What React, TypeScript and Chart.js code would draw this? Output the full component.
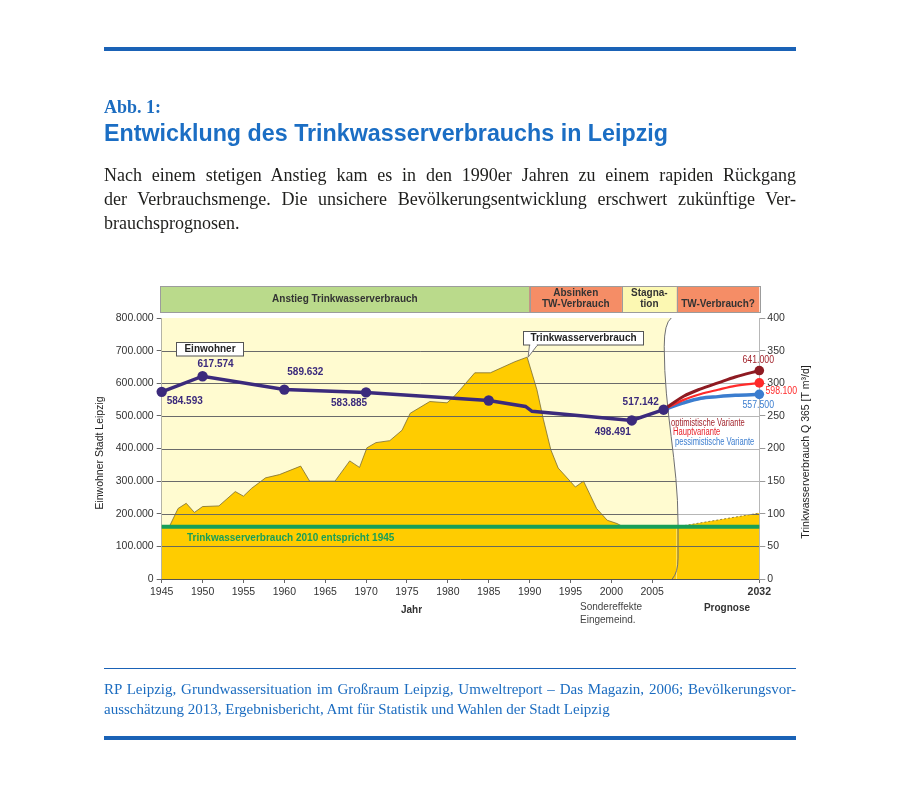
import React, { useEffect, useLayoutEffect, useRef } from 'react';
import { Chart, registerables } from 'chart.js';

Chart.register(...registerables);

// ---------------- data ----------------
// Trinkwasserverbrauch Q 365 [T m³/d] (right axis)
const WATER_YEARS = [1945, 1946, 1947, 1948, 1949, 1950, 1952, 1954, 1955, 1956, 1957.7, 1959.4, 1962, 1963.1, 1966.2, 1968, 1969.2, 1970.1, 1971.2, 1972.9, 1974.4, 1975.4, 1977.8, 1979.9, 1980.7, 1981.5, 1983.3, 1985.2, 1988.2, 1989.7, 1990.9, 1991.7, 1992.6, 1993.5, 1995.6, 1996.6, 1998.2, 1999.5, 2000.7, 2001.3, 2008, 2032];
const WATER_VALUES = [80, 82, 108, 116, 102, 111, 112, 134, 127, 139, 155, 160, 173, 150, 150, 181, 171, 201, 209, 212, 228, 254, 272, 270, 279, 290, 316, 316, 333, 340, 290, 244, 198, 170, 141, 150, 108, 90, 85, 81, 80, 101];

// Einwohner Stadt Leipzig (left axis)
const POP_YEARS = [1945, 1950, 1960, 1970, 1985, 1989.5, 1990.3, 2002.5, 2006.4];
const POP_VALUES = [573600, 621500, 580600, 572000, 547000, 529000, 514000, 486000, 519000];
const POP_LABELS = ['584.593', '617.574', '589.632', '583.885', '', '', '', '498.491', '517.142'];
const POP_MARKED = [true, true, true, true, true, false, false, true, true];

// Bevölkerungsprognose bis 2032
const FORECAST_YEARS = [2006.4, 2010, 2015, 2020, 2025, 2032];
const FORECAST_OPT = [519000, 560000, 583000, 601000, 619000, 639000];
const FORECAST_MAIN = [519000, 549000, 567000, 580000, 592000, 601000];
const FORECAST_PESS = [519000, 540000, 554000, 559000, 563000, 566000];
const FORECAST_END_LABELS = ['641.000', '598.100', '557.500'];
const VARIANT_NAMES = ['optimistische Variante', 'Hauptvariante', 'pessimistische Variante'];

// Trinkwasserverbrauch 2010 (= 1945)
const GREEN_LEVEL = 80;

const X_TICK_YEARS = [1945, 1950, 1955, 1960, 1965, 1970, 1975, 1980, 1985, 1990, 1995, 2000, 2005, 2032];
const PHASE_BOUNDS = [1945, 1990, 2001.3, 2008, 2032];
const PHASE_LABELS = [['Anstieg Trinkwasserverbrauch'], ['Absinken', 'TW-Verbrauch'], ['Stagna-', 'tion'], ['', 'TW-Verbrauch?']];

const BREAK_YEAR = 2008;
const LAST_YEAR = 2032;
const FORECAST_SPAN = 10.1; // axis units used for 2008..2032 (compressed prognosis section)

function axisX(year: number) {
  return year <= BREAK_YEAR ? year : BREAK_YEAR + ((year - BREAK_YEAR) * FORECAST_SPAN) / (LAST_YEAR - BREAK_YEAR);
}

// ---------------- styles ----------------
const FONT = '"Liberation Sans", Arial, Helvetica, sans-serif';
const SERIF = '"Liberation Serif", "Times New Roman", serif';
const PURPLE = '#3B2A7C';
const DARKRED = '#8E1B22';
const RED = '#FF2A2A';
const BLUE = '#3B7DCF';
const GREEN = '#179F58';
const GOLD = '#FFCC00';
const PALE = '#FFFBD0';
const BLUE_PAGE = '#1A62B6';
const BAND_COLORS = ['#BADA8B', '#F58D66', '#FCF8B2', '#F58D66'];

const POP_INDEX = 0;
const FORECAST_START_INDEX = 1;
const AREA_INDEX = 5;

function pts(xs: number[], ys: number[]) {
  return xs.map((x, i) => ({ x: axisX(x), y: ys[i] }));
}

function breakCurve(ctx: CanvasRenderingContext2D, bx: number, Y: (f: number) => number, a: any, cont: boolean) {
  if (cont) ctx.lineTo(bx - 5.5, a.top);
  else ctx.moveTo(bx - 5.5, a.top);
  ctx.quadraticCurveTo(bx - 12.5, Y(0.02), bx - 12.5, Y(0.11));
  ctx.bezierCurveTo(bx - 12.5, Y(0.36), bx + 1.3, Y(0.55), bx + 1.3, Y(0.785));
  ctx.lineTo(bx + 1.3, Y(0.92));
  ctx.quadraticCurveTo(bx + 1.3, Y(0.975), bx - 4.5, a.bottom);
}

function yellowPath(ctx: CanvasRenderingContext2D, chart: any) {
  const a = chart.chartArea;
  const bx = chart.scales.x.getPixelForValue(BREAK_YEAR);
  const H = a.bottom - a.top;
  const Y = (f: number) => a.top + f * H;
  ctx.beginPath();
  ctx.moveTo(a.left, a.top);
  breakCurve(ctx, bx, Y, a, true);
  ctx.lineTo(a.left, a.bottom);
  ctx.closePath();
}

function areaPath(ctx: CanvasRenderingContext2D, chart: any) {
  const a = chart.chartArea;
  const data = chart.getDatasetMeta(AREA_INDEX).data;
  ctx.beginPath();
  ctx.moveTo(data[0].x, a.bottom);
  data.forEach((p: any) => ctx.lineTo(p.x, p.y));
  ctx.lineTo(data[data.length - 1].x, a.bottom);
  ctx.closePath();
}

function text(ctx: CanvasRenderingContext2D, s: string, x: number, y: number, font: string, color: string, align: CanvasTextAlign = 'center', sx = 1) {
  ctx.save();
  ctx.font = font;
  ctx.fillStyle = color;
  ctx.textAlign = align;
  ctx.textBaseline = 'middle';
  ctx.translate(x, y);
  ctx.scale(sx, 1);
  ctx.fillText(s, 0, 0);
  ctx.restore();
}

const POP_LABEL_OFFSETS: Record<number, [number, number]> = {
  0: [23, 9],
  1: [13, -12],
  2: [21, -17],
  3: [-17, 11],
  7: [-19, 12],
  8: [-23, -7],
};
const END_LABEL_OFFSETS: [number, number][] = [
  [-1, -11],
  [22, 8],
  [-1, 10],
];

const decorPlugin = {
  id: 'decor',
  beforeDatasetsDraw(chart: any) {
    const { ctx, chartArea: a } = chart;
    ctx.save();
    ctx.fillStyle = '#ffffff';
    ctx.fillRect(a.left, a.top, a.right - a.left, a.bottom - a.top);
    ctx.fillStyle = PALE;
    yellowPath(ctx, chart);
    ctx.fill();
    ctx.restore();
  },
  afterDatasetDraw(chart: any, args: any) {
    if (args.index !== AREA_INDEX) return;
    const { ctx, chartArea: a } = chart;
    const yS = chart.scales.y;
    const drawGrid = (color: string) => {
      ctx.strokeStyle = color;
      ctx.lineWidth = 1;
      ctx.beginPath();
      yS.ticks.forEach((t: any) => {
        if (t.value <= 0 || t.value >= yS.max) return;
        const y = Math.round(yS.getPixelForValue(t.value)) + 0.5;
        ctx.moveTo(a.left, y);
        ctx.lineTo(a.right, y);
      });
      ctx.stroke();
    };
    ctx.save();
    ctx.beginPath();
    ctx.rect(a.left, a.top, a.right - a.left, a.bottom - a.top);
    ctx.clip();
    drawGrid('#b6b6b6');
    ctx.save();
    yellowPath(ctx, chart);
    ctx.clip();
    drawGrid('#6a6a6a');
    ctx.restore();
    ctx.save();
    areaPath(ctx, chart);
    ctx.clip();
    drawGrid('#6a6a5a');
    ctx.restore();
    // break curve
    const bx = chart.scales.x.getPixelForValue(BREAK_YEAR);
    const H = a.bottom - a.top;
    const Y = (f: number) => a.top + f * H;
    ctx.beginPath();
    breakCurve(ctx, bx, Y, a, false);
    ctx.strokeStyle = '#6f6f6f';
    ctx.lineWidth = 1;
    ctx.stroke();
    ctx.restore();
  },
  afterDatasetsDraw(chart: any) {
    const { ctx, chartArea: a } = chart;
    const xS = chart.scales.x;
    ctx.save();

    // population labels
    const pm = chart.getDatasetMeta(POP_INDEX).data;
    POP_LABELS.forEach((s, i) => {
      if (!s) return;
      const off = POP_LABEL_OFFSETS[i] || [0, -12];
      text(ctx, s, pm[i].x + off[0], pm[i].y + off[1], `bold 10px ${FONT}`, PURPLE);
    });

    // forecast end labels
    const endColors = ['#A3262E', RED, BLUE];
    FORECAST_END_LABELS.forEach((s, k) => {
      const d = chart.getDatasetMeta(FORECAST_START_INDEX + k).data;
      const p = d[d.length - 1];
      text(ctx, s, p.x + END_LABEL_OFFSETS[k][0], p.y + END_LABEL_OFFSETS[k][1], `11.5px ${FONT}`, endColors[k], 'center', 0.76);
    });

    // variant legend
    const legColors = ['#A3262E', '#E8222A', BLUE];
    VARIANT_NAMES.forEach((s, k) => {
      text(ctx, s, 671 + k * 2, 423 + k * 9.7, `10px ${FONT}`, legColors[k], 'left', 0.76);
    });

    // Einwohner box
    ctx.fillStyle = '#ffffff';
    ctx.fillRect(176.5, 342.5, 67, 13.5);
    ctx.strokeStyle = '#555';
    ctx.lineWidth = 1;
    ctx.strokeRect(176.5, 342.5, 67, 13.5);
    text(ctx, 'Einwohner', 210, 349.5, `bold 10px ${FONT}`, '#222');

    // Trinkwasserverbrauch callout
    const am = chart.getDatasetMeta(AREA_INDEX).data;
    let peak = am[0];
    am.forEach((p: any) => {
      if (p.y < peak.y) peak = p;
    });
    ctx.beginPath();
    ctx.moveTo(529.5, 345);
    ctx.lineTo(peak.x + 1, peak.y);
    ctx.lineTo(537.5, 345);
    ctx.closePath();
    ctx.fillStyle = '#fff';
    ctx.fill();
    ctx.strokeStyle = '#777';
    ctx.stroke();
    ctx.fillStyle = '#fff';
    ctx.fillRect(523.5, 331.5, 120, 13.5);
    ctx.strokeStyle = '#555';
    ctx.strokeRect(523.5, 331.5, 120, 13.5);
    ctx.fillStyle = '#fff';
    ctx.fillRect(530.2, 344, 6.6, 2);
    text(ctx, 'Trinkwasserverbrauch', 583.5, 338.5, `bold 10px ${FONT}`, '#222');

    // green line text
    text(ctx, 'Trinkwasserverbrauch 2010 entspricht 1945', 187, 538, `bold 10px ${FONT}`, GREEN, 'left');

    // phase bands
    const top = a.top - 32;
    const bot = a.top - 6;
    for (let i = 0; i < PHASE_LABELS.length; i++) {
      const x0 = xS.getPixelForValue(axisX(PHASE_BOUNDS[i])) - (i === 0 ? 1.5 : 0);
      const x1 = xS.getPixelForValue(axisX(PHASE_BOUNDS[i + 1]));
      ctx.fillStyle = BAND_COLORS[i];
      ctx.fillRect(x0, top, x1 - x0, bot - top);
      ctx.strokeStyle = '#9c9c9c';
      ctx.lineWidth = 1;
      ctx.strokeRect(Math.round(x0) + 0.5, top + 0.5, Math.round(x1 - x0), bot - top);
      const lines = PHASE_LABELS[i];
      const cx = (x0 + x1) / 2;
      if (lines.length === 1) {
        text(ctx, lines[0], cx, (top + bot) / 2, `bold 10px ${FONT}`, '#333');
      } else {
        text(ctx, lines[0], cx, top + 7.5, `bold 10px ${FONT}`, '#333');
        text(ctx, lines[1], cx, top + 18.5, `bold 10px ${FONT}`, '#333');
      }
    }

    // axis titles
    ctx.save();
    ctx.translate(100, 453);
    ctx.rotate(-Math.PI / 2);
    text(ctx, 'Einwohner Stadt Leipzig', 0, 0, `10.5px ${FONT}`, '#222');
    ctx.restore();
    ctx.save();
    ctx.translate(806, 452);
    ctx.rotate(-Math.PI / 2);
    text(ctx, 'Trinkwasserverbrauch Q 365 [T m³/d]', 0, 0, `10.5px ${FONT}`, '#222');
    ctx.restore();

    // texts below axis
    text(ctx, 'Jahr', 411.5, 610.5, `bold 10px ${FONT}`, '#333');
    text(ctx, 'Sondereffekte', 580, 607.5, `10px ${FONT}`, '#444', 'left');
    text(ctx, 'Eingemeind.', 580, 620, `10px ${FONT}`, '#444', 'left');
    text(ctx, 'Prognose', 727, 608, `bold 10px ${FONT}`, '#333');

    ctx.restore();
  },
};

function FitLine({ width, style, children }: { width: number; style: React.CSSProperties; children: React.ReactNode }) {
  const ref = useRef<HTMLSpanElement>(null);
  useLayoutEffect(() => {
    const el = ref.current;
    if (!el) return;
    el.style.transform = 'none';
    const w = el.getBoundingClientRect().width;
    if (w > 0) el.style.transform = `scaleX(${width / w})`;
  }, [width]);
  return (
    <span ref={ref} style={{ display: 'inline-block', whiteSpace: 'nowrap', transformOrigin: '0 0', ...style }}>
      {children}
    </span>
  );
}

function JustLine({ children, last, style }: { children: React.ReactNode; last?: boolean; style: React.CSSProperties }) {
  return (
    <div style={{ width: 692, whiteSpace: 'nowrap', textAlign: last ? 'left' : 'justify', textAlignLast: last ? 'left' : 'justify', ...style } as React.CSSProperties}>
      {children}
    </div>
  );
}

export default function App() {
  const ref = useRef<HTMLCanvasElement>(null);

  useEffect(() => {
    const canvas = ref.current;
    if (!canvas) return;
    const xMax = axisX(LAST_YEAR);
    const endRadius = FORECAST_YEARS.map((_, i) => (i === FORECAST_YEARS.length - 1 ? 4.8 : 0));
    const chart = new Chart(canvas, {
      type: 'line',
      data: {
        datasets: [
          {
            label: 'Einwohner',
            data: pts(POP_YEARS, POP_VALUES),
            yAxisID: 'y',
            borderColor: PURPLE,
            backgroundColor: PURPLE,
            borderWidth: 3.5,
            pointRadius: POP_MARKED.map((m) => (m ? 5.2 : 0)),
            pointBorderWidth: 0,
            pointBackgroundColor: PURPLE,
            tension: 0,
            fill: false,
            clip: false,
          },
          {
            label: 'optimistische Variante',
            data: pts(FORECAST_YEARS, FORECAST_OPT),
            yAxisID: 'y',
            borderColor: DARKRED,
            backgroundColor: DARKRED,
            borderWidth: 3,
            cubicInterpolationMode: 'monotone',
            pointRadius: endRadius,
            pointBorderWidth: 0,
            fill: false,
            clip: false,
          },
          {
            label: 'Hauptvariante',
            data: pts(FORECAST_YEARS, FORECAST_MAIN),
            yAxisID: 'y',
            borderColor: RED,
            backgroundColor: RED,
            borderWidth: 2.2,
            cubicInterpolationMode: 'monotone',
            pointRadius: endRadius,
            pointBorderWidth: 0,
            fill: false,
            clip: false,
          },
          {
            label: 'pessimistische Variante',
            data: pts(FORECAST_YEARS, FORECAST_PESS),
            yAxisID: 'y',
            borderColor: BLUE,
            backgroundColor: BLUE,
            borderWidth: 3.5,
            cubicInterpolationMode: 'monotone',
            pointRadius: endRadius,
            pointBorderWidth: 0,
            fill: false,
            clip: false,
          },
          {
            label: 'Trinkwasserverbrauch 2010',
            data: [
              { x: 1945, y: GREEN_LEVEL },
              { x: xMax, y: GREEN_LEVEL },
            ],
            yAxisID: 'y1',
            borderColor: GREEN,
            borderWidth: 4,
            pointRadius: 0,
            fill: false,
            clip: false,
          },
          {
            label: 'Trinkwasserverbrauch',
            data: pts(WATER_YEARS, WATER_VALUES),
            yAxisID: 'y1',
            borderColor: '#7a6c34',
            backgroundColor: GOLD,
            borderWidth: 0.8,
            pointRadius: 0,
            tension: 0,
            fill: 'origin',
            segment: {
              borderDash: (c: any) => (c.p0.parsed.x >= BREAK_YEAR - 0.01 ? [2, 2] : undefined),
            },
          } as any,
        ],
      },
      options: {
        responsive: false,
        animation: false,
        layout: { padding: { left: 91.7, right: 80.7, top: 318, bottom: 178 } },
        plugins: { legend: { display: false }, tooltip: { enabled: false } },
        scales: {
          x: {
            type: 'linear',
            min: 1945,
            max: xMax,
            afterBuildTicks: (s: any) => {
              s.ticks = X_TICK_YEARS.map((y) => ({ value: axisX(y) }));
            },
            afterFit: (s: any) => {
              s.height = 30;
            },
            ticks: {
              autoSkip: false,
              maxRotation: 0,
              padding: 3,
              color: '#333',
              font: (c: any) => ({
                family: FONT,
                size: 10.5,
                weight: c.tick && Math.abs(c.tick.value - xMax) < 0.01 ? 'bold' : 'normal',
              }),
              callback: (_v: any, i: number) => String(X_TICK_YEARS[i]),
            },
            grid: { drawOnChartArea: false, drawTicks: true, tickLength: 4, color: '#666' },
            border: { color: '#555', width: 1 },
          },
          y: {
            position: 'left',
            min: 0,
            max: 800000,
            afterFit: (s: any) => {
              s.width = 70;
            },
            ticks: {
              stepSize: 100000,
              padding: 3,
              color: '#333',
              font: { family: FONT, size: 10.5 },
              callback: (v: any) => (Number(v) === 0 ? '0' : `${Math.round(Number(v) / 1000)}.000`),
            },
            grid: { drawOnChartArea: false, drawTicks: true, tickLength: 5, color: '#666' },
            border: { color: '#666', width: 1 },
          },
          y1: {
            position: 'right',
            min: 0,
            max: 400,
            afterFit: (s: any) => {
              s.width = 60;
            },
            ticks: {
              stepSize: 50,
              padding: 2,
              color: '#333',
              font: { family: FONT, size: 10.5 },
            },
            grid: { drawOnChartArea: false, drawTicks: true, tickLength: 6, color: '#999' },
            border: { color: '#999', width: 1 },
          },
        },
      },
      plugins: [decorPlugin],
    } as any);
    return () => chart.destroy();
  }, []);

  const bodyStyle: React.CSSProperties = { fontFamily: SERIF, fontSize: 18, lineHeight: '24px', color: '#1e1e1c' };
  const footStyle: React.CSSProperties = { fontFamily: SERIF, fontSize: 15, lineHeight: '20px', color: '#1B6CC0' };

  return (
    <div style={{ position: 'absolute', left: 0, top: 0, width: 900, height: 787, background: '#fff', overflow: 'hidden' }}>
      <canvas ref={ref} width={900} height={787} style={{ position: 'absolute', left: 0, top: 0, width: 900, height: 787 }} />
      <div style={{ position: 'absolute', left: 104, top: 46.5, width: 692, height: 4, background: BLUE_PAGE }} />
      <div style={{ position: 'absolute', left: 104, top: 98, fontFamily: SERIF, fontWeight: 'bold', fontSize: 18, lineHeight: '18px', color: '#1B6CC0', whiteSpace: 'nowrap' }}>
        Abb. 1:
      </div>
      <div style={{ position: 'absolute', left: 104, top: 120.7, lineHeight: '24px' }}>
        <FitLine width={564} style={{ fontFamily: FONT, fontWeight: 'bold', fontSize: 24, lineHeight: '24px', color: '#1B6EC4' }}>
          Entwicklung des Trinkwasserverbrauchs in Leipzig
        </FitLine>
      </div>
      <div style={{ position: 'absolute', left: 104, top: 163 }}>
        <JustLine style={bodyStyle}>Nach einem stetigen Anstieg kam es in den 1990er Jahren zu einem rapiden Rückgang</JustLine>
        <JustLine style={bodyStyle}>der Verbrauchsmenge. Die unsichere Bevölkerungsentwicklung erschwert zukünftige Ver-</JustLine>
        <JustLine style={bodyStyle} last>
          brauchsprognosen.
        </JustLine>
      </div>
      <div style={{ position: 'absolute', left: 104, top: 668, width: 692, height: 1, background: BLUE_PAGE }} />
      <div style={{ position: 'absolute', left: 104, top: 679 }}>
        <JustLine style={footStyle}>RP Leipzig, Grundwassersituation im Großraum Leipzig, Umweltreport – Das Magazin, 2006; Bevölkerungsvor-</JustLine>
        <JustLine style={footStyle} last>
          ausschätzung 2013, Ergebnisbericht, Amt für Statistik und Wahlen der Stadt Leipzig
        </JustLine>
      </div>
      <div style={{ position: 'absolute', left: 104, top: 735.5, width: 692, height: 4, background: BLUE_PAGE }} />
    </div>
  );
}
